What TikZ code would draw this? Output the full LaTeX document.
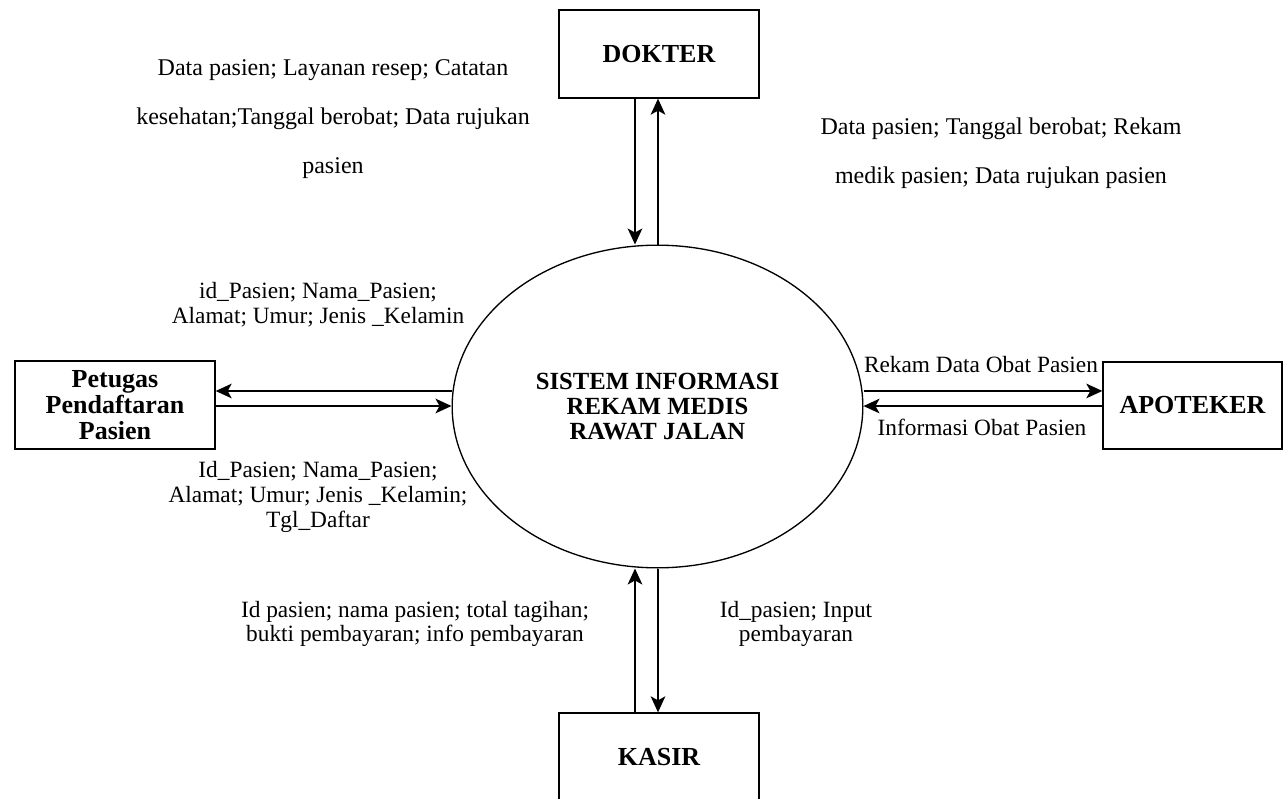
\documentclass[tikz,border=0pt]{standalone}
\usepackage{fontspec}
\setmainfont{Liberation Serif}
\usetikzlibrary{arrows.meta,shapes.geometric}

\begin{document}
\begin{tikzpicture}[x=0.75pt, y=-0.75pt,
		entitas/.style={draw, line width=1pt, minimum width=150pt, minimum height=66pt, inner sep=0pt, align=center, font=\fontsize{19.5}{19.7}\selectfont\bfseries},
		proses/.style={draw, ellipse, line width=1pt, minimum width=308pt, minimum height=242pt, inner sep=0pt, align=center, font=\fontsize{18.5}{18.4}\selectfont\bfseries},
		alur/.style={line width=1.1pt, -{Stealth[length=12pt, width=11pt, inset=3pt]}},
		ket/.style={inner sep=0pt, align=center, font=\fontsize{17.5}{18.5}\selectfont},
		ketlebar/.style={ket, font=\fontsize{18}{36.75}\selectfont}]
		%%%%% START %%%%%
		
		\useasboundingbox (0, 0) rectangle (1283, 799);
		
		\node[proses] (sistem) at (657.5, 406.5) {SISTEM INFORMASI\\REKAM MEDIS\\RAWAT JALAN};
		
		\node[entitas] (dokter) at (659, 54) {DOKTER};
		\node[entitas] (petugas) at (115, 405) {Petugas\\Pendaftaran\\Pasien};
		\node[entitas, minimum width=134.25pt, minimum height=65.25pt] (apoteker) at (1192.5, 405.5) {APOTEKER};
		\node[entitas] (kasir) at (659, 757) {KASIR};
		
		\draw[alur] ([xshift=-18pt]dokter.south) -- ([xshift=-18pt]dokter.south |- sistem.north);
		\draw[alur] ([xshift=-0.75pt]dokter.south |- sistem.north) -- ([xshift=-0.75pt]dokter.south);
		
		\draw[alur] ([yshift=10.5pt]petugas.east -| sistem.west) -- ([yshift=10.5pt]petugas.east);
		\draw[alur] ([yshift=-0.75pt]petugas.east) -- ([yshift=-0.75pt]petugas.east -| sistem.west);
		
		\draw[alur] ([yshift=10.9pt]apoteker.west -| sistem.east) -- ([yshift=10.9pt]apoteker.west);
		\draw[alur] ([yshift=-0.4pt]apoteker.west) -- ([yshift=-0.4pt]apoteker.west -| sistem.east);
		
		\draw[alur] ([xshift=-18pt]kasir.north) -- ([xshift=-18pt]kasir.north |- sistem.south);
		\draw[alur] ([xshift=-0.75pt]kasir.north |- sistem.south) -- ([xshift=-0.75pt]kasir.north);
		
		\node[ketlebar] (ketDokterKiri) at (333, 119) {Data pasien; Layanan resep; Catatan\\kesehatan;Tanggal berobat; Data rujukan\\pasien};
		\node[ketlebar] (ketDokterKanan) at (1001, 153) {Data pasien; Tanggal berobat; Rekam\\medik pasien; Data rujukan pasien};
		
		\node[ket] (ketPetugasAtas) at (318, 305) {id\_Pasien; Nama\_Pasien;\\Alamat; Umur; Jenis \_Kelamin};
		\node[ket] (ketPetugasBawah) at (318, 497) {Id\_Pasien; Nama\_Pasien;\\Alamat; Umur; Jenis \_Kelamin;\\Tgl\_Daftar};
		
		\node[ket] (ketApotekerAtas) at (981, 365) {Rekam Data Obat Pasien};
		\node[ket] (ketApotekerBawah) at (982, 427) {Informasi Obat Pasien};
		
		\node[ket] (ketKasirKiri) at (415, 624) {Id pasien; nama pasien; total tagihan;\\bukti pembayaran; info pembayaran};
		\node[ket] (ketKasirKanan) at (796, 624) {Id\_pasien; Input\\pembayaran};
		
		%%%%% END %%%%%
	\end{tikzpicture}
\end{document}
